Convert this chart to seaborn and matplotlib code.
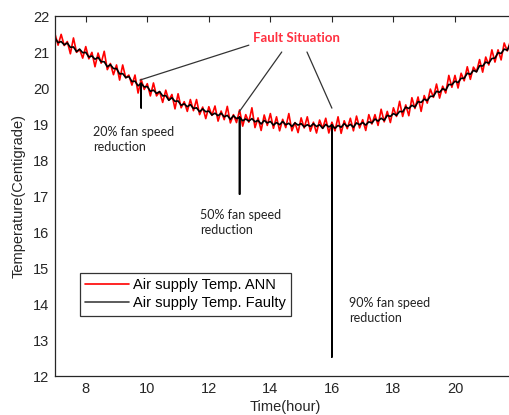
import numpy as np
import pandas as pd
import matplotlib
matplotlib.use("Agg")
import matplotlib.pyplot as plt
import seaborn as sns

# ---- data ----
hours = np.round(np.arange(70, 219) / 10.0, 1)  # sample grid 7.0 ... 21.8 h

ann_temp = [21.50, 21.19, 21.49, 21.18, 21.29, 20.95, 21.39, 20.99, 21.07, 20.83,
            21.15, 20.81, 20.99, 20.59, 20.97, 20.69, 21.02, 20.51, 20.68, 20.37,
            20.64, 20.22, 20.64, 20.28, 20.36, 20.08, 20.36, 19.86, 20.24, 19.96,
            20.12, 19.78, 20.14, 19.78, 19.90, 19.60, 19.94, 19.66, 19.82, 19.42,
            19.84, 19.45, 19.62, 19.35, 19.68, 19.37, 19.68, 19.26, 19.47, 19.15,
            19.48, 19.24, 19.50, 19.08, 19.36, 19.12, 19.49, 19.03, 19.26, 19.04,
            19.39, 18.94, 19.26, 19.05, 19.45, 18.90, 19.17, 18.82, 19.25, 18.96,
            19.29, 18.88, 19.20, 18.81, 19.13, 18.90, 19.29, 18.81, 19.04, 18.76,
            19.17, 18.89, 19.20, 18.80, 19.05, 18.75, 19.11, 18.88, 19.16, 18.75,
            19.05, 18.81, 19.20, 18.74, 19.09, 18.87, 19.16, 18.81, 19.22, 18.89,
            19.12, 18.82, 19.26, 19.00, 19.26, 18.96, 19.41, 19.06, 19.35, 19.04,
            19.45, 19.21, 19.63, 19.21, 19.53, 19.23, 19.73, 19.43, 19.75, 19.35,
            19.79, 19.58, 19.97, 19.74, 20.11, 19.72, 20.05, 19.86, 20.35, 20.02,
            20.35, 20.00, 20.41, 20.20, 20.59, 20.24, 20.58, 20.45, 20.79, 20.44,
            20.86, 20.64, 21.06, 20.72, 21.06, 20.78, 21.25, 21.03, 21.30]

faulty_temp = [21.39, 21.26, 21.29, 21.20, 21.25, 21.13, 21.14, 21.01, 21.08, 20.98,
               20.99, 20.86, 20.89, 20.80, 20.85, 20.73, 20.73, 20.59, 20.65, 20.54,
               20.54, 20.39, 20.40, 20.29, 20.32, 20.18, 20.19, 20.06, 20.13, 20.03,
               20.04, 19.91, 19.94, 19.85, 19.90, 19.78, 19.79, 19.66, 19.73, 19.63,
               19.64, 19.52, 19.56, 19.48, 19.54, 19.43, 19.45, 19.34, 19.42, 19.34,
               19.36, 19.25, 19.30, 19.23, 19.30, 19.20, 19.24, 19.13, 19.23, 19.15,
               19.19, 19.09, 19.14, 19.08, 19.15, 19.06, 19.10, 19.00, 19.10, 19.03,
               19.07, 18.97, 19.04, 18.98, 19.07, 18.98, 19.02, 18.93, 19.03, 18.97,
               19.01, 18.92, 18.98, 18.93, 19.01, 18.93, 18.98, 18.88, 18.99, 18.92,
               18.97, 18.88, 18.96, 18.91, 19.01, 18.93, 18.99, 18.91, 19.03, 18.98,
               19.04, 18.97, 19.06, 19.03, 19.14, 19.08, 19.16, 19.10, 19.24, 19.21,
               19.29, 19.24, 19.35, 19.34, 19.47, 19.43, 19.52, 19.47, 19.62, 19.60,
               19.69, 19.65, 19.77, 19.77, 19.91, 19.88, 19.98, 19.94, 20.10, 20.09,
               20.19, 20.15, 20.27, 20.27, 20.41, 20.38, 20.49, 20.45, 20.62, 20.61,
               20.72, 20.69, 20.82, 20.83, 20.98, 20.96, 21.08, 21.05, 21.23]

# fan-speed faults: time and lowest temperature of the dip
fault_hours = [9.8, 13.0, 16.0]
fault_low = [19.45, 17.05, 12.53]
fault_labels = ["20% fan speed\nreduction", "50% fan speed\nreduction", "90% fan speed\nreduction"]

legend_labels = ["Air supply Temp. ANN", "Air supply Temp. Faulty"]
x_ticks = [8, 10, 12, 14, 16, 18, 20]
y_ticks = [12, 13, 14, 15, 16, 17, 18, 19, 20, 21, 22]

# ---- tables ----
ann_df = pd.DataFrame({"hour": hours, "temp": ann_temp})
rows = []
for h, v in zip(hours, faulty_temp):
    rows.append((h, v))
    for fh, fl in zip(fault_hours, fault_low):
        if abs(h - fh) < 1e-9:
            rows.append((h, fl))
            rows.append((h, v))
faulty_df = pd.DataFrame(rows, columns=["hour", "temp"])

# ---- figure ----
sns.set_theme(style="white")
plt.rcParams["font.family"] = ["Liberation Sans", "DejaVu Sans"]

W, H = 509, 415
fig = plt.figure(figsize=(W / 100, H / 100), dpi=100)
ax = fig.add_axes([55 / W, (H - 376) / H, (516.5 - 55) / W, 360 / H])

sns.lineplot(data=ann_df, x="hour", y="temp", ax=ax, color="#ff0000", lw=1.2,
             sort=False, estimator=None, label=legend_labels[0])
sns.lineplot(data=faulty_df, x="hour", y="temp", ax=ax, color="#000000", lw=1.2,
             sort=False, estimator=None, label=legend_labels[1])

ax.set_xlim(7, 22)
ax.set_ylim(12, 22)
ax.set_xticks(x_ticks)
ax.set_yticks(y_ticks)
ax.tick_params(direction="in", length=4, width=0.8, top=True, right=True,
               labelsize=10.5, colors="#262626", pad=4)
for s in ax.spines.values():
    s.set_color("#262626")
    s.set_linewidth(0.9)
ax.set_xlabel("Time(hour)", fontsize=10.5, color="#262626", labelpad=3)
ax.set_ylabel("Temperature(Centigrade)", fontsize=10.5, color="#262626", labelpad=5)

leg = ax.legend(loc="upper left", bbox_to_anchor=(80 / W, 1 - 273 / H),
                bbox_transform=fig.transFigure, fontsize=10.5, handlelength=3.0,
                frameon=True, fancybox=False, borderpad=0.35, labelspacing=0.3,
                handletextpad=0.3, borderaxespad=0)
leg.get_frame().set_edgecolor("#000000")
leg.get_frame().set_linewidth(0.9)
for t in leg.get_texts():
    t.set_color("#000000")
leg.get_lines()[1].set_color("#404040")

# annotation texts
txt_font = ["Lato", "DejaVu Sans"]
label_pos = [(8.23, 18.94), (11.71, 16.64), (16.55, 14.19)]
for (lx, ly), lab in zip(label_pos, fault_labels):
    ax.text(lx, ly, lab, fontsize=9, family=txt_font, color="#222222",
            va="top", ha="left", linespacing=1.3)

ax.text(14.86, 21.39, "Fault Situation", fontsize=9.5, family=txt_font,
        color="#ff3040", fontweight="bold", ha="center", va="center")
pointer_from = [(13.30, 21.19), (14.37, 21.0), (15.19, 21.0)]
pointer_to = [(9.76, 20.22), (12.98, 19.33), (16.0, 19.44)]
for p0, p1 in zip(pointer_from, pointer_to):
    ax.annotate("", xy=p1, xytext=p0,
                arrowprops=dict(arrowstyle="-", color="#333333", lw=0.9,
                                shrinkA=0, shrinkB=0))

fig.savefig("out.png", dpi=100)
